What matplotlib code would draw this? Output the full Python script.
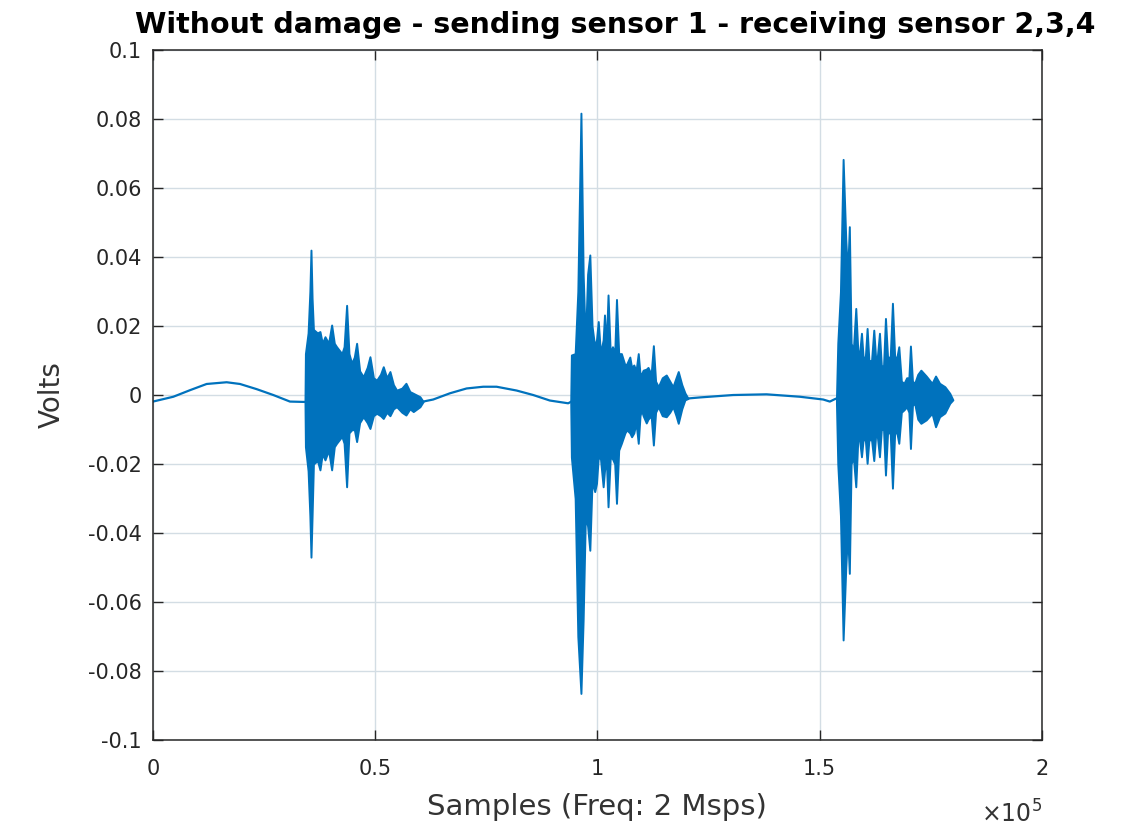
import matplotlib

matplotlib.use("Agg")
import matplotlib.pyplot as plt
from matplotlib.ticker import FixedLocator, FixedFormatter

# quiet stretches between the bursts (sample index, volts)
base1_s = [0, 4575, 8324, 12070, 16570, 19573, 23330, 27070, 30820, 33820, 34200]
base1_v = [-0.0019, -0.0005, 0.0014, 0.0032, 0.0037, 0.0032, 0.0017, 0.0, -0.0019, -0.0020, -0.002]
base2_s = [60800, 63060, 66817, 70570, 74310, 77320, 81820, 85560, 89310, 93430, 94000]
base2_v = [-0.0019, -0.0013, 0.0005, 0.0019, 0.0024, 0.0024, 0.0013, 0.0, -0.0016, -0.0024, -0.002]
base3_s = [120400, 123060, 130560, 138070, 145560, 150810, 152310, 153430, 153800]
base3_v = [-0.001, -0.0007, 0.0, 0.0002, -0.0005, -0.0013, -0.0019, -0.0012, -0.001]

# burst envelopes (upper / lower), sensor 2
burst1_s = [34200, 34300, 34900, 35300, 35550, 35800, 36100, 37000, 37570, 38100, 38700, 39500,
            40200, 40800, 41300, 42500, 43000, 43570, 44100, 44700, 45300, 45820, 46500, 47320,
            48200, 48820, 49600, 50320, 51200, 51820, 52600, 53320, 54100, 54820, 56000, 56920,
            57800, 58570, 60070, 60800]
burst1_up = [-0.002, 0.012, 0.018, 0.03, 0.042, 0.028, 0.019, 0.018, 0.0184, 0.015, 0.0169, 0.015,
             0.0203, 0.015, 0.014, 0.012, 0.014, 0.026, 0.012, 0.0092, 0.011, 0.015, 0.007, 0.0053,
             0.008, 0.0111, 0.005, 0.0043, 0.006, 0.0082, 0.005, 0.0068, 0.003, 0.0014, 0.002, 0.0034,
             0.001, 0.0005, -0.0005, -0.0019]
burst1_lo = [-0.002, -0.015, -0.022, -0.035, -0.047, -0.035, -0.020, -0.019, -0.0217, -0.017, -0.0188, -0.016,
             -0.0217, -0.015, -0.014, -0.012, -0.014, -0.0266, -0.011, -0.0101, -0.010, -0.0135, -0.008, -0.0063,
             -0.008, -0.0097, -0.006, -0.0053, -0.006, -0.0068, -0.005, -0.006, -0.004, -0.0034, -0.005, -0.0058,
             -0.004, -0.0048, -0.0034, -0.0019]

# sensor 3
burst2_s = [94000, 94150, 95000, 95600, 96300, 96800, 97300, 97800, 98300, 98800, 99400, 99800,
            100200, 100700, 101300, 101600, 102000, 102400, 102900, 103400, 103900, 104300, 104800, 105400,
            106200, 106600, 107300, 107700, 108200, 108700, 109200, 109600, 109900, 110300, 111000, 111400,
            112100, 112600, 113100, 113700, 114600, 115500, 116300, 117000, 117700, 118200, 119000, 119700,
            120400]
burst2_up = [-0.002, 0.0116, 0.012, 0.03, 0.0817, 0.035, 0.015, 0.035, 0.0406, 0.02, 0.014, 0.016,
             0.0213, 0.012, 0.016, 0.0232, 0.014, 0.029, 0.012, 0.014, 0.012, 0.0277, 0.012, 0.012,
             0.0087, 0.009, 0.011, 0.008, 0.0087, 0.007, 0.012, 0.006, 0.006, 0.0072, 0.0075, 0.008,
             0.006, 0.0143, 0.004, 0.0024, 0.005, 0.0058, 0.004, 0.0024, 0.005, 0.0068, 0.003, 0.0006,
             -0.001]
burst2_lo = [-0.002, -0.018, -0.030, -0.070, -0.0865, -0.065, -0.035, -0.038, -0.045, -0.025, -0.028, -0.0256,
             -0.018, -0.0185, -0.0266, -0.022, -0.018, -0.0324, -0.018, -0.0185, -0.020, -0.0314, -0.016, -0.014,
             -0.011, -0.0101, -0.011, -0.0121, -0.011, -0.008, -0.014, -0.006, -0.0043, -0.006, -0.0081, -0.007,
             -0.006, -0.0145, -0.005, -0.0034, -0.006, -0.0063, -0.005, -0.0034, -0.006, -0.0082, -0.004, -0.0014,
             -0.001]

# sensor 4
burst3_s = [153800, 154100, 154700, 155300, 155900, 156300, 156700, 157100, 157600, 158150, 158600, 159000,
            159430, 159800, 160300, 160700, 161100, 161700, 162200, 162600, 163000, 163480, 163900, 164400,
            164830, 165300, 165900, 166400, 166900, 167400, 167830, 168400, 169000, 169600, 170100, 170450,
            170900, 171400, 172100, 172800, 174000, 175300, 176100, 177000, 178200, 179300, 180000]
burst3_up = [-0.001, 0.015, 0.03, 0.0683, 0.045, 0.035, 0.0488, 0.015, 0.013, 0.0251, 0.013, 0.012,
             0.0179, 0.011, 0.011, 0.0193, 0.010, 0.010, 0.0188, 0.011, 0.011, 0.0179, 0.0085, 0.0085,
             0.0222, 0.011, 0.011, 0.0266, 0.011, 0.011, 0.014, 0.004, 0.0034, 0.005, 0.005, 0.0142,
             0.004, 0.0034, 0.006, 0.0072, 0.0055, 0.0034, 0.0055, 0.0034, 0.0024, 0.0005, -0.0014]
burst3_lo = [-0.0024, -0.02, -0.035, -0.071, -0.05, -0.04, -0.0517, -0.02, -0.0179, -0.0266, -0.013, -0.013,
             -0.0179, -0.013, -0.013, -0.0198, -0.013, -0.013, -0.019, -0.012, -0.012, -0.0179, -0.010, -0.010,
             -0.0232, -0.011, -0.011, -0.027, -0.011, -0.011, -0.014, -0.005, -0.0043, -0.0034, -0.005, -0.0155,
             -0.003, -0.0024, -0.007, -0.0082, -0.0072, -0.0053, -0.0092, -0.0063, -0.0052, -0.0024, -0.0014]

xticks = [0, 50000, 100000, 150000, 200000]
xtick_labels = ["0", "0.5", "1", "1.5", "2"]
yticks = [0.1, 0.08, 0.06, 0.04, 0.02, 0, -0.02, -0.04, -0.06, -0.08, -0.1]
ytick_labels = ["0.1", "0.08", "0.06", "0.04", "0.02", "0", "-0.02", "-0.04", "-0.06", "-0.08", "-0.1"]

blue = "#0072BD"
ink = "#262626"

fig = plt.figure(figsize=(11.25, 8.31), dpi=100)
ax = fig.add_axes([0.136, 0.1095, 0.790, 0.8303])

for s, v in [(base1_s, base1_v), (base2_s, base2_v), (base3_s, base3_v)]:
    ax.plot(s, v, color=blue, lw=1.6)

for s, up, lo in [(burst1_s, burst1_up, burst1_lo),
                  (burst2_s, burst2_up, burst2_lo),
                  (burst3_s, burst3_up, burst3_lo)]:
    ax.fill_between(s, lo, up, color=blue, lw=1.4, edgecolor=blue)

ax.set_xlim(0, 200000)
ax.set_ylim(-0.1, 0.1)
ax.xaxis.set_major_locator(FixedLocator(xticks))
ax.xaxis.set_major_formatter(FixedFormatter(xtick_labels))
ax.yaxis.set_major_locator(FixedLocator(yticks))
ax.yaxis.set_major_formatter(FixedFormatter(ytick_labels))

ax.grid(True, color="#d3dde4", lw=1.0)
ax.set_axisbelow(True)
for sp in ax.spines.values():
    sp.set_color(ink)
    sp.set_linewidth(1.1)
ax.tick_params(direction="in", length=7, width=1.0, colors=ink, labelsize=15,
               top=True, right=True, pad=8)
ax.tick_params(axis="x", pad=14)

ax.set_title("Without damage - sending sensor 1 - receiving sensor 2,3,4",
             fontsize=20.5, fontweight="bold", color="black", pad=12, x=0.52)
ax.set_xlabel("Samples (Freq: 2 Msps)", fontsize=21, color="#333333", labelpad=10)
ax.set_ylabel("Volts", fontsize=20, color="#333333", labelpad=16)
ax.text(1.0, -0.088, r"$\times10^5$", transform=ax.transAxes, ha="right", va="top",
        fontsize=17, color="#333333")

fig.savefig("out.png", dpi=100, facecolor="white")
plt.close(fig)
